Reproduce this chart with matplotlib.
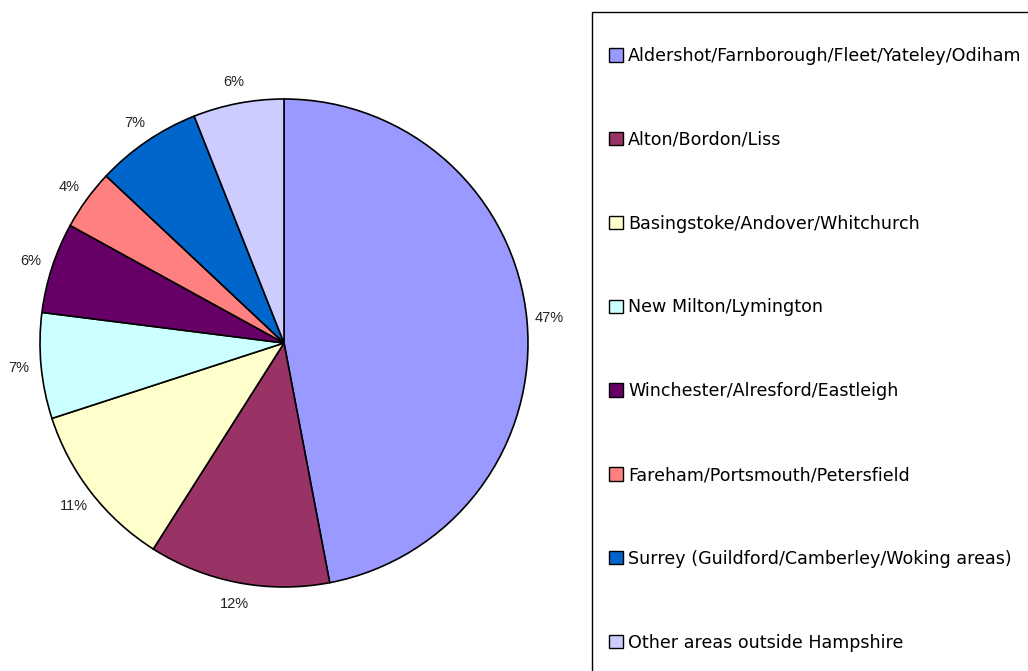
import matplotlib
matplotlib.use("Agg")
import matplotlib.pyplot as plt
from matplotlib.patches import Patch, Rectangle

areas = [
  "Aldershot/Farnborough/Fleet/Yateley/Odiham",
  "Alton/Bordon/Liss",
  "Basingstoke/Andover/Whitchurch",
  "New Milton/Lymington",
  "Winchester/Alresford/Eastleigh",
  "Fareham/Portsmouth/Petersfield",
  "Surrey (Guildford/Camberley/Woking areas)",
  "Other areas outside Hampshire",
]
shares = [47, 12, 11, 7, 6, 4, 7, 6]
colors = ["#9999FF", "#993366", "#FFFFCC", "#CCFFFF",
          "#660066", "#FF8080", "#0066CC", "#CCCCFF"]

W, H = 1028, 671
fig = plt.figure(figsize=(W / 100, H / 100), dpi=100)

# pie axes: centre (284, 343) px, radius ~244 px
cx, cy, r = 284, 343, 244
ax = fig.add_axes([(cx - r) / W, (H - cy - r) / H, 2 * r / W, 2 * r / H])
ax.pie(shares, colors=colors, startangle=90, counterclock=False,
       autopct="%d%%", pctdistance=1.09,
       wedgeprops=dict(edgecolor="black", linewidth=1.2),
       textprops=dict(fontsize=10.5, family="Liberation Sans", color="#222222"))
ax.set_aspect("equal")
ax.set_xlim(-1, 1)
ax.set_ylim(-1, 1)

# legend frame runs off the right and bottom edges
fig.patches.append(Rectangle((592 / W, -0.05), 0.5, (H - 12) / H + 0.05,
                             transform=fig.transFigure, fill=False,
                             edgecolor="black", linewidth=1))

handles = [Patch(facecolor=c, edgecolor="black", linewidth=1) for c in colors]
fig.legend(handles, areas, loc="upper left",
           bbox_to_anchor=(609 / W, 1 - 47 / H), frameon=False,
           borderpad=0, borderaxespad=0, handlelength=0.8, handleheight=0.8,
           handletextpad=0.3, labelspacing=3.76,
           prop=dict(family="DejaVu Sans", size=12.6))

fig.savefig("out.png", dpi=100)
